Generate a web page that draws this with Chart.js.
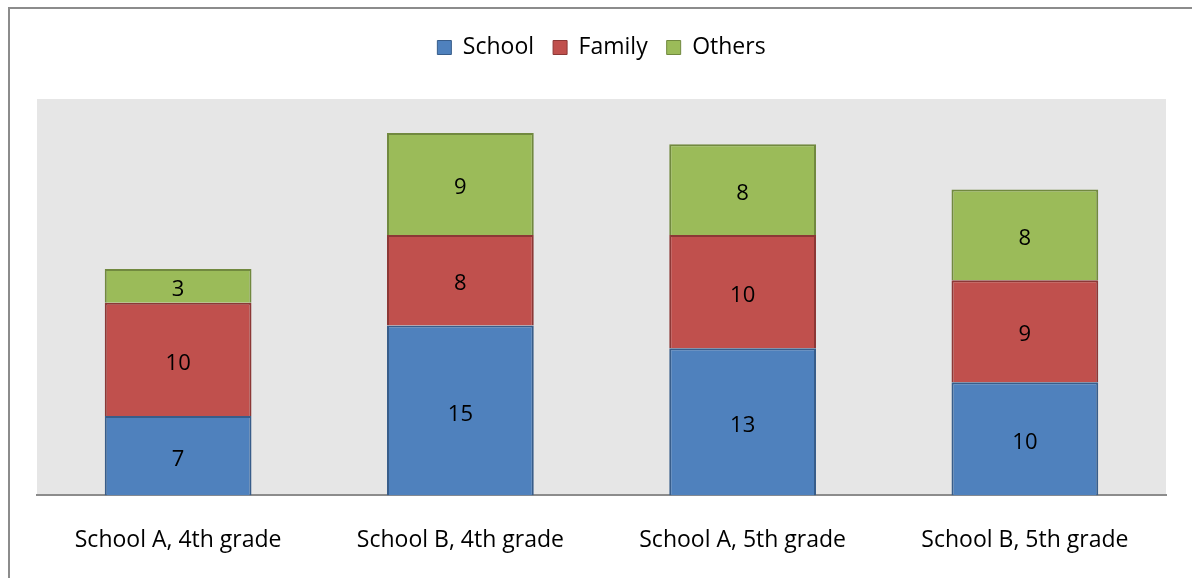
<!DOCTYPE html>
<html>
<head>
<meta charset="utf-8">
<script src="https://cdn.jsdelivr.net/npm/chart.js@4.4.1/dist/chart.umd.min.js"></script>
<style>
  html, body { margin: 0; padding: 0; background: #fff; }
  #wrap { width: 1192px; height: 578px; position: relative; }
</style>
</head>
<body>
<div id="wrap"><canvas id="chart"></canvas></div>
<script>
// chart data
const categories = ['School A, 4th grade', 'School B, 4th grade', 'School A, 5th grade', 'School B, 5th grade'];
const schoolValues = [7, 15, 13, 10];
const familyValues = [10, 8, 10, 9];
const othersValues = [3, 9, 8, 8];
const yMax = 35;

const FONT = 'Open Sans';

// grey plot background + outer frame
const backdrop = {
    id: 'backdrop',
    beforeDraw(chart) {
        const ctx = chart.ctx;
        const a = chart.chartArea;
        ctx.save();
        ctx.fillStyle = '#e6e6e6';
        ctx.fillRect(a.left, a.top, a.right - a.left, a.bottom - a.top);
        ctx.strokeStyle = '#8c8c8c';
        ctx.lineWidth = 2;
        ctx.beginPath();
        ctx.moveTo(9, 600);
        ctx.lineTo(9, 8);
        ctx.lineTo(1200, 8);
        ctx.stroke();
        ctx.restore();
    }
};

// extra gap under the legend
const legendGap = {
    id: 'legendGap',
    beforeInit(chart) {
        const fit = chart.legend.fit;
        chart.legend.fit = function () {
            fit.bind(this)();
            this.height += 30;
        };
    }
};

// values in the middle of each segment
const segmentLabels = {
    id: 'segmentLabels',
    afterDatasetsDraw(chart) {
        const ctx = chart.ctx;
        ctx.save();
        ctx.font = '22px "' + FONT + '"';
        ctx.fillStyle = '#000';
        ctx.textAlign = 'center';
        ctx.textBaseline = 'middle';
        chart.data.datasets.forEach((ds, i) => {
            chart.getDatasetMeta(i).data.forEach((bar, j) => {
                const mid = (bar.y + bar.base) / 2;
                ctx.fillText(ds.data[j], bar.x, mid + 4);
            });
        });
        ctx.restore();
    }
};

new Chart(document.getElementById('chart'), {
    type: 'bar',
    data: {
        labels: categories,
        datasets: [
            { label: 'School', data: schoolValues, backgroundColor: '#4f81bd', borderColor: '#385d8a', borderWidth: 2 },
            { label: 'Family', data: familyValues, backgroundColor: '#c0504d', borderColor: '#8c3836', borderWidth: 2 },
            { label: 'Others', data: othersValues, backgroundColor: '#9bbb59', borderColor: '#71893f', borderWidth: 2 }
        ]
    },
    options: {
        responsive: true,
        maintainAspectRatio: false,
        animation: false,
        layout: { padding: { left: 37, right: 26, top: 17, bottom: -7 } },
        datasets: { bar: { categoryPercentage: 0.52, barPercentage: 1 } },
        plugins: {
            legend: {
                position: 'top',
                labels: {
                    font: { family: FONT, size: 23 },
                    color: '#000',
                    boxWidth: 14,
                    boxHeight: 14,
                    padding: 19,
                    generateLabels(chart) {
                        return chart.data.datasets.map((ds, i) => ({
                            text: ds.label,
                            fillStyle: ds.backgroundColor,
                            strokeStyle: ds.borderColor,
                            lineWidth: 1,
                            datasetIndex: i
                        }));
                    }
                }
            },
            tooltip: { enabled: false }
        },
        scales: {
            x: {
                stacked: true,
                grid: { display: false, drawTicks: false },
                border: { color: '#8c8c8c', width: 2 },
                ticks: { font: { family: FONT, size: 23 }, color: '#000', padding: 31 }
            },
            y: {
                stacked: true,
                display: false,
                min: 0,
                max: yMax
            }
        }
    },
    plugins: [backdrop, legendGap, segmentLabels]
});
</script>
</body>
</html>
